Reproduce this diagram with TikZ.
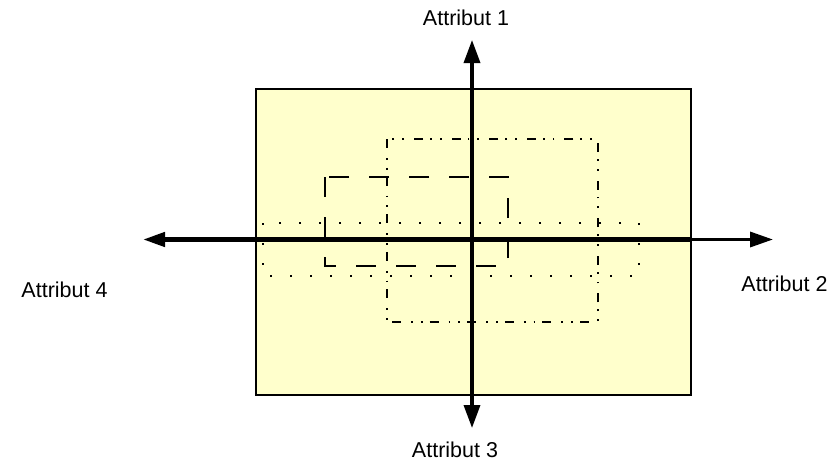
\documentclass[tikz,border=0pt]{standalone}
\usepackage{fontspec}
\setmainfont{Liberation Sans}
\usetikzlibrary{arrows.meta}
\definecolor{paleyellow}{HTML}{FFFFCC}
\tikzset{
  axisbold/.style={line width=4.4pt},
  axisthin/.style={line width=3.4pt},
  tipv/.style={-{Triangle[length=23pt,width=16pt]}},
  lbl/.style={inner sep=0pt, font=\fontsize{21.5}{26}\selectfont},
  panel/.style={draw=black, line width=1.8pt, fill=paleyellow, inner sep=0pt},
  dashrect/.style={line width=1.9pt, dash pattern=on 20pt off 20pt, dash phase=0pt},
  dddrect/.style={line width=1.8pt, dash pattern=on 9pt off 10pt on 1.8pt off 8pt on 1.8pt off 7pt},
  dotrect/.style={line width=1.8pt, dash pattern=on 1.8pt off 18.2pt},
}
\begin{document}
\begin{tikzpicture}[x=1pt,y=-1pt]
\useasboundingbox (0,0) rectangle (839,463);
% panel
\node[panel, minimum width=435pt, minimum height=306pt, anchor=north west] (panel) at (255,88) {};
% inner rectangles
\draw[dddrect] (387,139) rectangle (598,322);
\draw[dashrect] (325,177) rectangle (508,266);
\draw[dotrect] (263,223) rectangle (639,276);
% axis coordinates
\coordinate (o) at (472,239.5);
\coordinate (top) at (472,40);
\coordinate (bot) at (472,428);
\coordinate (lft) at (143,239.5);
\coordinate (rgt) at (773,239.5);
\coordinate (pe) at (690,239.5);
% axes
\draw[axisthin, tipv] (o) -- (top);
\draw[axisthin, tipv] (o) -- (bot);
\draw[axisthin, -{Triangle[length=23pt,width=15pt]}] (o) -- (rgt);
\draw[axisbold] (o) -- (pe);
\draw[axisbold, -{Triangle[length=22pt,width=14pt]}] (o) -- (lft);
% labels
\node[lbl] (a1) at (466,17.5) {Attribut 1};
\node[lbl] (a2) at (784.5,283.5) {Attribut 2};
\node[lbl] (a3) at (455,449.5) {Attribut 3};
\node[lbl] (a4) at (64.5,289.5) {Attribut 4};
\end{tikzpicture}
\end{document}
